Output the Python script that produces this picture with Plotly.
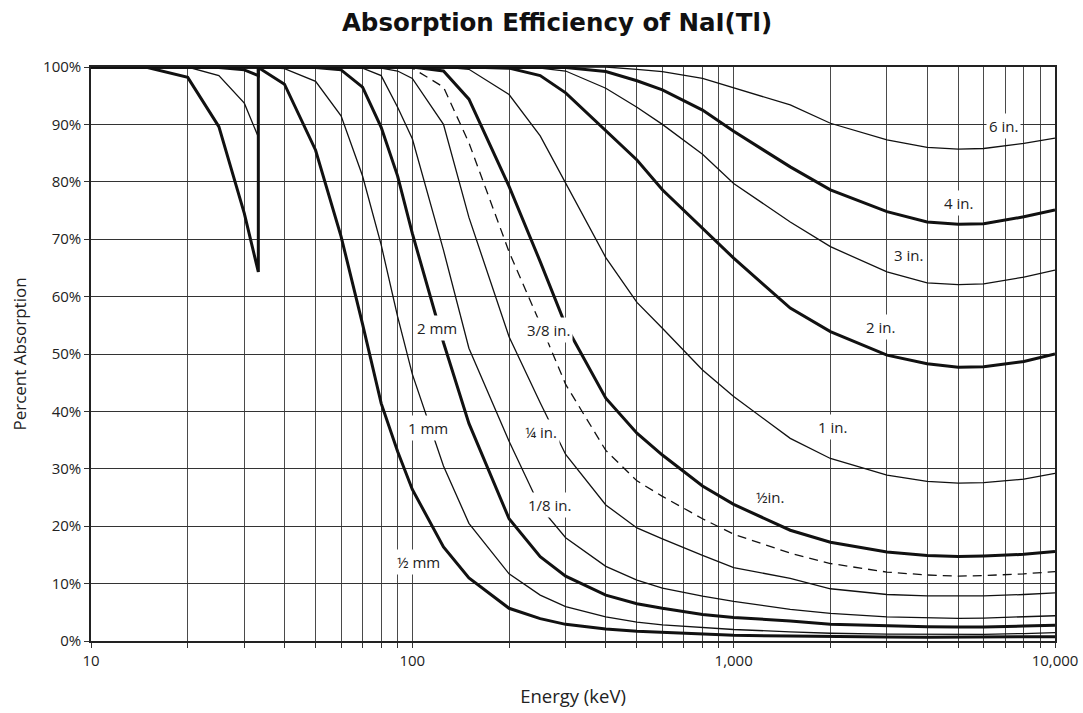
import math
import plotly.graph_objects as go

# Energy grid (keV); 33.17 keV appears twice for the iodine K-edge jump
energy = [10, 15, 20, 25, 30, 33.17, 33.17, 40, 50, 60, 70, 80, 90, 100, 125, 150, 200, 250,
          300, 400, 500, 600, 800, 1000, 1500, 2000, 3000, 4000, 5000, 6000, 8000, 10000]

# Percent absorption, one list per crystal thickness
half_mm = [100, 99.9, 98.2, 89.6, 74.5, 64.3, 99.9, 97, 85.5, 70.5, 55.2, 41.4, 33, 26.4, 16.4, 11, 5.7, 3.9,
           2.9, 2.1, 1.7, 1.5, 1.2, 1.0, 0.85, 0.75, 0.7, 0.65, 0.65, 0.65, 0.7, 0.75]
one_mm = [100, 100, 100, 98.5, 93.7, 87.8, 100, 99.7, 97.5, 91.5, 81, 69, 56.5, 46.5, 30.5, 20.5, 11.7, 8,
          6, 4.2, 3.3, 2.8, 2.3, 2.0, 1.6, 1.35, 1.2, 1.15, 1.13, 1.15, 1.3, 1.45]
two_mm = [100, 100, 100, 99.9, 99.5, 98.5, 100, 100, 99.9, 99.5, 96.5, 89.5, 81, 71, 52, 37.9, 21.3, 14.7,
          11.3, 8, 6.5, 5.7, 4.6, 4.1, 3.5, 2.9, 2.6, 2.5, 2.45, 2.45, 2.6, 2.75]
eighth_in = [100, 100, 100, 100, 100, 100, 100, 100, 100, 100, 99.8, 98.5, 93, 87.5, 68.1, 51, 34.8, 23.3,
             18, 13, 10.6, 9.2, 7.8, 6.9, 5.5, 4.8, 4.2, 4.0, 3.95, 4.0, 4.2, 4.4]
quarter_in = [100, 100, 100, 100, 100, 100, 100, 100, 100, 100, 100, 99.8, 99.3, 98, 90, 73.8, 53, 41.5,
              32.5, 23.7, 19.7, 17.8, 14.9, 12.8, 10.9, 9.1, 8.1, 7.85, 7.8, 7.85, 8.1, 8.4]
three_eighth_in = [100, 100, 100, 100, 100, 100, 100, 100, 100, 100, 100, 100, 100, 99.8, 96.5, 86.8, 67.8, 55.3,
                   44.7, 33.2, 27.9, 25.2, 21.3, 18.6, 15.3, 13.5, 12, 11.5, 11.3, 11.4, 11.7, 12.1]
half_in = [100, 100, 100, 100, 100, 100, 100, 100, 100, 100, 100, 100, 100, 100, 99.3, 94.4, 79.2, 66.1,
           55, 42.3, 36.2, 32.4, 27, 23.8, 19.3, 17.2, 15.5, 14.9, 14.7, 14.8, 15.1, 15.6]
one_in = [100, 100, 100, 100, 100, 100, 100, 100, 100, 100, 100, 100, 100, 100, 100, 99.6, 95.2, 88,
          79.8, 66.8, 59, 54.5, 47.2, 42.6, 35.3, 31.8, 28.9, 27.8, 27.5, 27.6, 28.2, 29.2]
two_in = [100, 100, 100, 100, 100, 100, 100, 100, 100, 100, 100, 100, 100, 100, 100, 100, 99.8, 98.5,
          95.5, 89, 83.8, 78.6, 71.8, 66.7, 58, 53.9, 49.8, 48.3, 47.7, 47.8, 48.7, 50]
three_in = [100, 100, 100, 100, 100, 100, 100, 100, 100, 100, 100, 100, 100, 100, 100, 100, 100, 99.8,
            99.3, 96.3, 93, 90, 84.8, 79.7, 73, 68.7, 64.3, 62.4, 62.1, 62.2, 63.4, 64.6]
four_in = [100, 100, 100, 100, 100, 100, 100, 100, 100, 100, 100, 100, 100, 100, 100, 100, 100, 100,
           99.9, 99.2, 97.6, 96, 92.5, 88.8, 82.6, 78.6, 74.8, 73, 72.6, 72.7, 73.9, 75.1]
six_in = [100, 100, 100, 100, 100, 100, 100, 100, 100, 100, 100, 100, 100, 100, 100, 100, 100, 100,
          100, 100, 99.6, 99.2, 98, 96.4, 93.4, 90.2, 87.3, 86, 85.7, 85.8, 86.7, 87.6]

series = [
    ("½ mm", half_mm, "thick"),
    ("1 mm", one_mm, "thin"),
    ("2 mm", two_mm, "thick"),
    ("1/8 in.", eighth_in, "thin"),
    ("¼ in.", quarter_in, "thin"),
    ("3/8 in.", three_eighth_in, "dash"),
    ("½in.", half_in, "thick"),
    ("1 in.", one_in, "thin"),
    ("2 in.", two_in, "thick"),
    ("3 in.", three_in, "thin"),
    ("4 in.", four_in, "thick"),
    ("6 in.", six_in, "thin"),
]

# curve labels: text, energy, percent
label_text = ["6 in.", "4 in.", "3 in.", "2 in.", "1 in.", "½in.", "3/8 in.", "¼ in.", "1/8 in.",
              "2 mm", "1 mm", "½ mm"]
label_energy = [6900, 5000, 3500, 2870, 2030, 1300, 265, 252, 267, 119.6, 112, 104.4]
label_pct = [89.7, 76.3, 67.2, 54.7, 37.3, 25.1, 54.2, 36.4, 23.7, 54.5, 37.1, 13.8]

# axis ticks
x_tickvals = [10, 20, 30, 40, 50, 60, 70, 80, 90,
              100, 200, 300, 400, 500, 600, 700, 800, 900,
              1000, 2000, 3000, 4000, 5000, 6000, 7000, 8000, 9000, 10000]
x_ticktext = ["10"] + [""] * 8 + ["100"] + [""] * 8 + ["1,000"] + [""] * 8 + ["10,000"]
y_tickvals = [0, 10, 20, 30, 40, 50, 60, 70, 80, 90, 100]
y_ticktext = [f"{v}%" for v in y_tickvals]

fig = go.Figure()

for name, vals, style in series:
    if style == "thick":
        line = dict(color="#111111", width=3)
    elif style == "dash":
        line = dict(color="#111111", width=1.3, dash="9px,6px")
    else:
        line = dict(color="#111111", width=1.3)
    fig.add_trace(go.Scatter(x=energy, y=vals, mode="lines", name=name, line=line))

# log axis: annotation x is given in log10 units
for txt, e, p in zip(label_text, label_energy, label_pct):
    fig.add_annotation(x=math.log10(e), y=p, xref="x", yref="y", text=txt, showarrow=False,
                       font=dict(family="Open Sans", size=15, color="#222222"),
                       bgcolor="white", borderpad=2)

fig.update_layout(
    width=1083, height=713,
    margin=dict(l=91, r=28, t=67, b=72),
    plot_bgcolor="white", paper_bgcolor="white",
    showlegend=False,
    font=dict(family="Open Sans", size=15, color="#222222"),
    title=dict(text="<b>Absorption Efficiency of NaI(Tl)</b>", x=0.5143, xanchor="center",
               y=0.969, yanchor="middle",
               font=dict(family="DejaVu Sans", size=24.5, color="#111111")),
)

fig.update_xaxes(
    type="log", range=[1, 4], automargin=False,
    tickvals=x_tickvals, ticktext=x_ticktext, ticklabeloverflow="allow",
    ticks="outside", ticklen=5, tickcolor="#333333",
    showgrid=True, gridcolor="#4a4a4a", gridwidth=1,
    showline=True, linecolor="#222222", linewidth=1.5, mirror=True,
    title=dict(text="Energy (keV)", font=dict(size=18.5), standoff=21),
    tickfont=dict(size=15),
)
fig.update_yaxes(
    range=[0, 100], automargin=False,
    tickvals=y_tickvals, ticktext=y_ticktext,
    ticks="outside", ticklen=5, tickcolor="#333333",
    showgrid=True, gridcolor="#333333", gridwidth=1,
    showline=True, linecolor="#222222", linewidth=1.5, mirror=True,
    zeroline=False,
    title=dict(text="Percent Absorption", font=dict(size=17), standoff=12),
    tickfont=dict(size=15),
)

# drop the page's default body margin so the figure sits at the window's corner
fig.write_html("out.html", config={"displayModeBar": False},
               post_script="document.body.style.margin='0';document.body.style.overflow='hidden';")
